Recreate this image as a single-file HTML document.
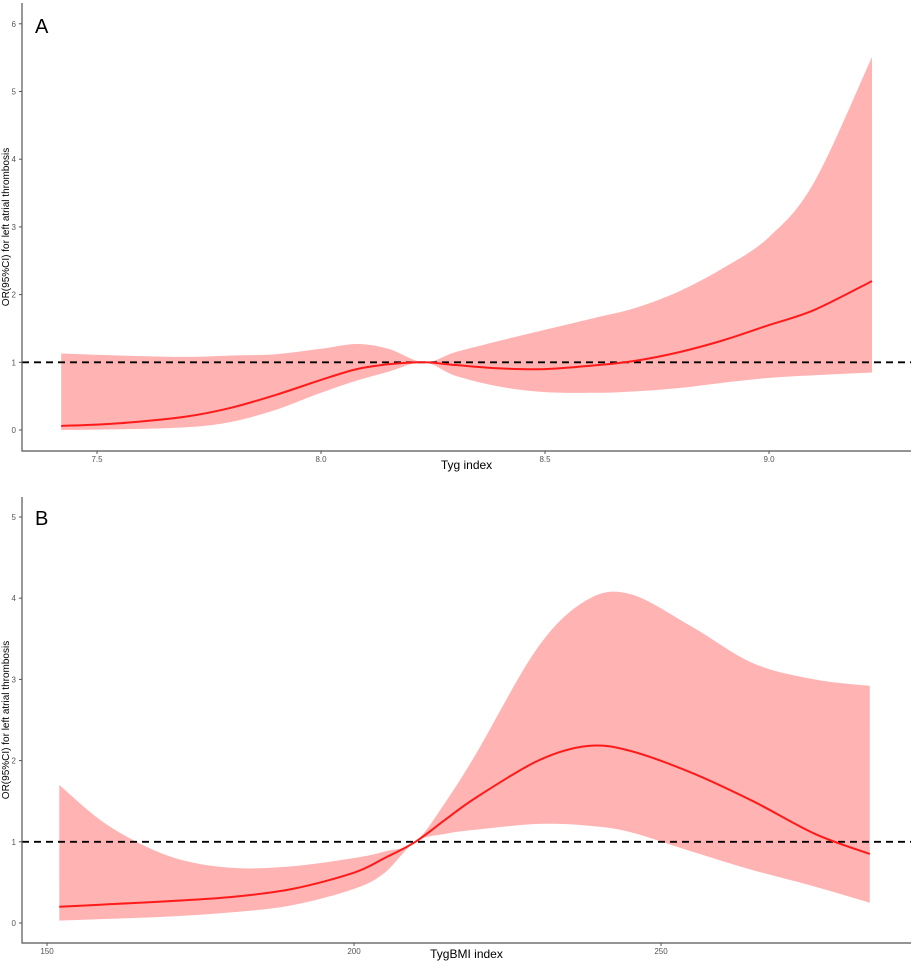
<!DOCTYPE html>
<html><head><meta charset="utf-8"><style>
body{margin:0;background:#fff;}
svg text{font-family:"Liberation Sans",sans-serif;}
</style></head><body>
<svg id="chart" width="913" height="964" viewBox="0 0 913 964" xmlns="http://www.w3.org/2000/svg"></svg>
<script>
// Panel A data
const aX = [7.42,7.55,7.7,7.8,7.9,8.0,8.08,8.15,8.23,8.3,8.4,8.5,8.62,8.7,8.8,8.9,9.0,9.1,9.23];
const aLine = [0.06,0.1,0.2,0.33,0.52,0.74,0.9,0.97,1.0,0.96,0.91,0.9,0.96,1.02,1.15,1.33,1.55,1.77,2.2];
const aUpper = [1.13,1.1,1.08,1.1,1.12,1.2,1.27,1.2,1.0,1.15,1.32,1.48,1.67,1.8,2.05,2.4,2.85,3.65,5.51];
const aLower = [0.0,0.01,0.04,0.12,0.3,0.55,0.73,0.86,1.0,0.8,0.64,0.56,0.55,0.57,0.62,0.7,0.77,0.81,0.85];
const aXTicks = [7.5,8.0,8.5,9.0];
const aXTickLabels = ["7.5","8.0","8.5","9.0"];
const aYTicks = [0,1,2,3,4,5,6];
// Panel B data
const bX = [152,160,170,180,190,200,205,210,215,220,230,238,245,255,265,275,284];
const bLine = [0.2,0.23,0.27,0.32,0.42,0.62,0.8,1.0,1.28,1.55,2.0,2.18,2.12,1.85,1.5,1.1,0.85];
const bUpper = [1.7,1.2,0.82,0.68,0.7,0.8,0.88,1.0,1.5,2.1,3.4,3.98,4.05,3.65,3.2,3.0,2.92];
const bLower = [0.03,0.05,0.08,0.13,0.22,0.42,0.62,1.0,1.1,1.15,1.22,1.2,1.12,0.88,0.65,0.45,0.25];
const bXTicks = [150,200,250];
const bXTickLabels = ["150","200","250"];
const bYTicks = [0,1,2,3,4,5];

const NS="http://www.w3.org/2000/svg";
const svg=document.getElementById('chart');
function mk(tag,attrs,parent){const e=document.createElementNS(NS,tag);for(const k in attrs)e.setAttribute(k,attrs[k]);(parent||svg).appendChild(e);return e;}
function pathFrom(pts){
  let d="M"+pts[0][0]+","+pts[0][1];
  for(let i=0;i<pts.length-1;i++){
    const p0=pts[Math.max(i-1,0)],p1=pts[i],p2=pts[i+1],p3=pts[Math.min(i+2,pts.length-1)];
    const c1=[p1[0]+(p2[0]-p0[0])/6,p1[1]+(p2[1]-p0[1])/6];
    const c2=[p2[0]-(p3[0]-p1[0])/6,p2[1]-(p3[1]-p1[1])/6];
    d+=" C"+c1[0].toFixed(1)+","+c1[1].toFixed(1)+" "+c2[0].toFixed(1)+","+c2[1].toFixed(1)+" "+p2[0].toFixed(1)+","+p2[1].toFixed(1);
  }
  return d;
}
function panel(cfg){
  const g=mk('g',{});
  
  
  const sx=v=>cfg.x0+(v-cfg.xv0)*cfg.xk;
  const sy=v=>cfg.y0-v*cfg.yk;
  const up=cfg.xs.map((x,i)=>[sx(x),sy(cfg.up[i])]);
  const lo=cfg.xs.map((x,i)=>[sx(x),sy(cfg.lo[i])]).reverse();
  let d=pathFrom(up);
  d+=" L"+lo[0][0]+","+lo[0][1]+pathFrom(lo).replace(/^M[^C]*/,' ')+" Z";
  const band=mk('path',{d:d,fill:'#ffb3b3',stroke:'none'},g);
  
  
  const ref=mk('line',{x1:cfg.axL,x2:cfg.axR,y1:sy(1),y2:sy(1),stroke:'#000','stroke-width':1.8,'stroke-dasharray':'7,5'},g);
  
  
  const ln=mk('path',{d:pathFrom(cfg.xs.map((x,i)=>[sx(x),sy(cfg.line[i])])),fill:'none',stroke:'#ff1a1a','stroke-width':2},g);
  
  
  const ax=mk('path',{d:`M${cfg.axL},${cfg.axT} V${cfg.axB} H${cfg.axR}`,fill:'none',stroke:'#555','stroke-width':1.2},g);
  
  
  cfg.yt.forEach(v=>{
    mk('line',{x1:cfg.axL-3,x2:cfg.axL,y1:sy(v),y2:sy(v),stroke:'#555'},g);
    const t=mk('text',{x:cfg.axL-6,y:sy(v)+3,'font-size':8,fill:'#555','text-anchor':'end'},g);
    
    
    t.textContent=String(v);
  });
  cfg.xt.forEach((v,i)=>{
    mk('line',{x1:sx(v),x2:sx(v),y1:cfg.axB,y2:cfg.axB+3,stroke:'#555'},g);
    const t=mk('text',{x:sx(v),y:cfg.axB+11,'font-size':8,fill:'#555','text-anchor':'middle'},g);
    
    
    t.textContent=cfg.xtl[i];
  });
  const xt=mk('text',{x:(cfg.axL+cfg.axR)/2,y:cfg.axB+cfg.titleOff,'font-size':12,fill:'#000','text-anchor':'middle'},g);
  
  
  xt.textContent=cfg.xtitle;
  const yc=(cfg.axT+cfg.axB)/2;
  const yt=mk('text',{x:9,y:yc,'font-size':10,fill:'#000','text-anchor':'middle',transform:`rotate(-90 9 ${yc})`},g);
  
  
  yt.textContent='OR(95%CI) for left atrial thrombosis';
  const lab=mk('text',{x:35,y:cfg.labY,'font-size':20,fill:'#000'},g);
  
  
  lab.textContent=cfg.label;
}
panel({name:'panel-a',xs:aX,line:aLine,up:aUpper,lo:aLower,xt:aXTicks,xtl:aXTickLabels,yt:aYTicks,
  x0:97,xv0:7.5,xk:448,y0:430,yk:67.7,axL:22,axR:911,axT:3,axB:451,titleOff:18,xtitle:'Tyg index',label:'A',labY:33});
panel({name:'panel-b',xs:bX,line:bLine,up:bUpper,lo:bLower,xt:bXTicks,xtl:bXTickLabels,yt:bYTicks,
  x0:47,xv0:150,xk:6.14,y0:923,yk:81.2,axL:22,axR:911,axT:497,axB:943,titleOff:15,xtitle:'TygBMI index',label:'B',labY:525});
</script>
</body></html>
